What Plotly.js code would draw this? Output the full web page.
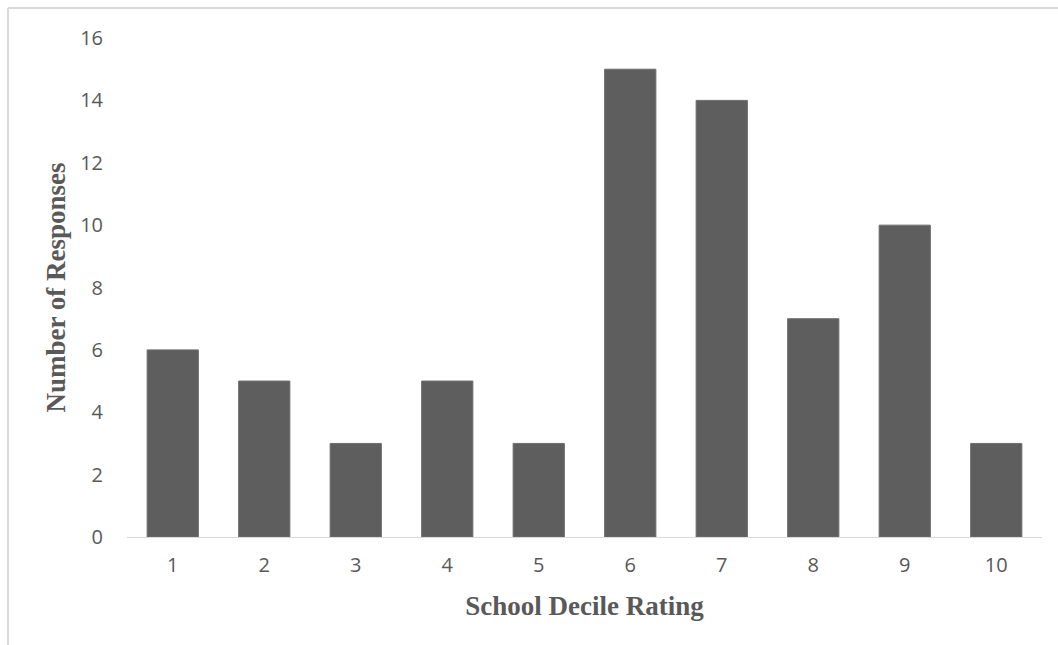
<!DOCTYPE html>
<html>
<head>
<meta charset="utf-8">
<script src="https://cdn.plot.ly/plotly-3.0.1.min.js"></script>
<style>
  html, body { margin: 0; padding: 0; background: #fff; }
  #chart { width: 1058px; height: 645px; }
</style>
</head>
<body>
<div id="chart"></div>
<script>
// School decile ratings and how many responses came from each
const deciles = ['1', '2', '3', '4', '5', '6', '7', '8', '9', '10'];
const responses = [6, 5, 3, 5, 3, 15, 14, 7, 10, 3];
const yTicks = [0, 2, 4, 6, 8, 10, 12, 14, 16];

const textGrey = '#595959';
const tickFont = { family: 'Open Sans, Liberation Sans, sans-serif', size: 20, color: textGrey };
const titleFont = { family: 'Liberation Serif, Times New Roman, serif', size: 27, color: textGrey, weight: 'bold' };

const trace = {
  type: 'bar',
  x: deciles,
  y: responses,
  marker: { color: '#5e5e5e', line: { color: '#6e6e6e', width: 1 } },
  hoverinfo: 'x+y'
};

// plot area in pixels: left 127, right 1042, top 38, bottom 537
const margin = { l: 127, r: 16, t: 38, b: 108 };
const plotW = 1058 - margin.l - margin.r;
const plotH = 645 - margin.t - margin.b;
const frameX = (8 - margin.l) / plotW;
const frameTop = (645 - margin.b - 8) / plotH;

const layout = {
  width: 1058,
  height: 645,
  margin: margin,
  paper_bgcolor: '#ffffff',
  plot_bgcolor: '#ffffff',
  bargap: 0.44,
  showlegend: false,
  xaxis: {
    type: 'category',
    showgrid: false,
    zeroline: false,
    showline: true,
    linecolor: '#d9d9d9',
    linewidth: 1,
    ticks: 'outside',
    ticklen: 10,
    tickcolor: 'rgba(0,0,0,0)',
    tickfont: tickFont,
    title: { text: 'School Decile Rating', font: titleFont, standoff: 19 }
  },
  yaxis: {
    range: [0, 16],
    tickvals: yTicks,
    showgrid: false,
    zeroline: false,
    showline: false,
    ticks: 'outside',
    ticklen: 19,
    tickcolor: 'rgba(0,0,0,0)',
    tickfont: tickFont,
    title: { text: 'Number of Responses', font: titleFont, standoff: 6 }
  },
  shapes: [
    // light frame around the chart area (left and top edges)
    { type: 'line', xref: 'paper', yref: 'paper',
      x0: frameX, x1: frameX, y0: frameTop, y1: -0.25,
      line: { color: '#d9d9d9', width: 2 } },
    { type: 'line', xref: 'paper', yref: 'paper',
      x0: frameX, x1: 1.05, y0: frameTop, y1: frameTop,
      line: { color: '#d9d9d9', width: 2 } }
  ]
};

Plotly.newPlot('chart', [trace], layout, { displayModeBar: false, staticPlot: true });
</script>
</body>
</html>
